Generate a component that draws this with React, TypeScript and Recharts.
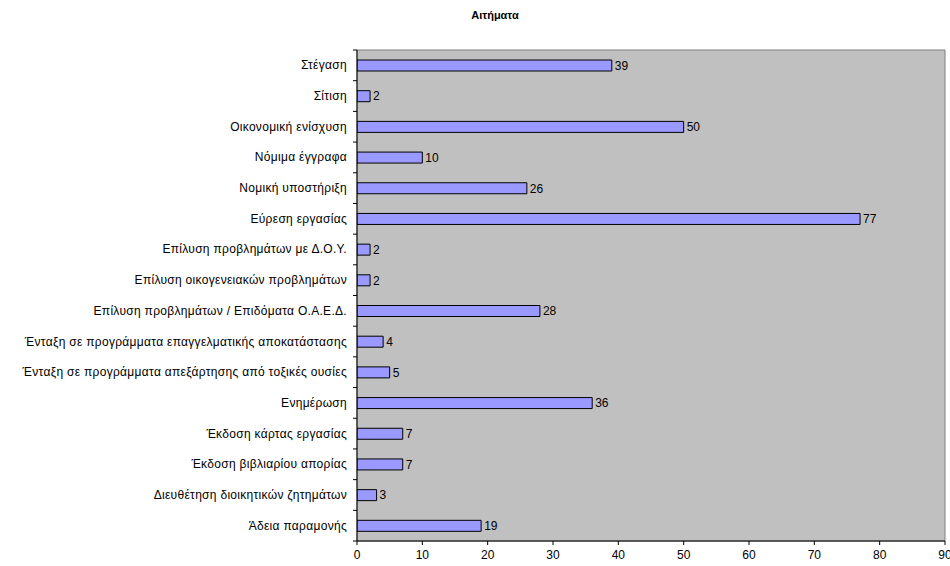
import { BarChart, Bar, XAxis, YAxis, ReferenceArea, LabelList } from 'recharts'

const categories = [
  'Στέγαση',
  'Σίτιση',
  'Οικονομική ενίσχυση',
  'Νόμιμα έγγραφα',
  'Νομική υποστήριξη',
  'Εύρεση εργασίας',
  'Επίλυση προβλημάτων με Δ.Ο.Υ.',
  'Επίλυση οικογενειακών προβλημάτων',
  'Επίλυση προβλημάτων / Επιδόματα Ο.Α.Ε.Δ.',
  'Ένταξη σε προγράμματα επαγγελματικής αποκατάστασης',
  'Ένταξη σε προγράμματα απεξάρτησης από τοξικές ουσίες',
  'Ενημέρωση',
  'Έκδοση κάρτας εργασίας',
  'Έκδοση βιβλιαρίου απορίας',
  'Διευθέτηση διοικητικών ζητημάτων',
  'Άδεια παραμονής',
]
const values = [39, 2, 50, 10, 26, 77, 2, 2, 28, 4, 5, 36, 7, 7, 3, 19]
const xTicks = [0, 10, 20, 30, 40, 50, 60, 70, 80, 90]

const data = categories.map((name, i) => ({ name, value: values[i] }))

const W = 950
const H = 566
const MARGIN = { top: 50, right: 5, bottom: 0, left: 0 }
const Y_WIDTH = 357
const X_HEIGHT = 25
const PLOT_H = H - MARGIN.top - MARGIN.bottom - X_HEIGHT
const BAND = PLOT_H / categories.length
const FONT = 'Arial, "Liberation Sans", sans-serif'

// category label with tick marks on the band edges (like Excel)
function CatTick(props: any) {
  const { x, y, payload, index } = props
  const ax = x + 8
  return (
    <g>
      <line x1={ax - 4} x2={ax} y1={y - BAND / 2} y2={y - BAND / 2} stroke="#000" />
      {index === categories.length - 1 && (
        <line x1={ax - 4} x2={ax} y1={y + BAND / 2} y2={y + BAND / 2} stroke="#000" />
      )}
      <text
        x={ax - 10}
        y={y}
        dy={4}
        textAnchor="end"
        fontSize={12}
        letterSpacing={0.3}
        fontFamily={FONT}
        fill="#000"
      >
        {payload.value}
      </text>
    </g>
  )
}

function NumTick(props: any) {
  const { x, y, payload } = props
  return (
    <text x={x} y={y} dy={12} textAnchor="middle" fontSize={12} fontFamily={FONT} fill="#000">
      {payload.value}
    </text>
  )
}

export default function App() {
  return (
    <div style={{ position: 'absolute', left: 0, top: 0, width: W, height: H, background: '#fff' }}>
      <div
        style={{
          position: 'absolute',
          left: 0,
          top: 9,
          width: 990,
          textAlign: 'center',
          fontFamily: FONT,
          fontWeight: 'bold',
          fontSize: 11,
          color: '#000',
        }}
      >
        Αιτήματα
      </div>
      <BarChart width={W} height={H} data={data} layout="vertical" margin={MARGIN}>
        <ReferenceArea x1={0} x2={90} fill="#c0c0c0" fillOpacity={1} stroke="#808080" strokeWidth={1} ifOverflow="extendDomain" />
        <XAxis
          type="number"
          domain={[0, 90]}
          ticks={xTicks}
          height={X_HEIGHT}
          interval={0}
          tick={<NumTick />}
          tickSize={4}
          stroke="#000"
          axisLine={{ stroke: '#000' }}
          tickLine={{ stroke: '#000' }}
          allowDataOverflow
        />
        <YAxis
          type="category"
          dataKey="name"
          width={Y_WIDTH}
          interval={0}
          tick={<CatTick />}
          tickLine={false}
          axisLine={{ stroke: '#000' }}
        />
        <Bar dataKey="value" fill="#9999ff" stroke="#000" strokeWidth={1} barSize={11} isAnimationActive={false}>
          <LabelList dataKey="value" position="right" offset={3} fontSize={12} fontFamily={FONT} fill="#000" />
        </Bar>
      </BarChart>
    </div>
  )
}
